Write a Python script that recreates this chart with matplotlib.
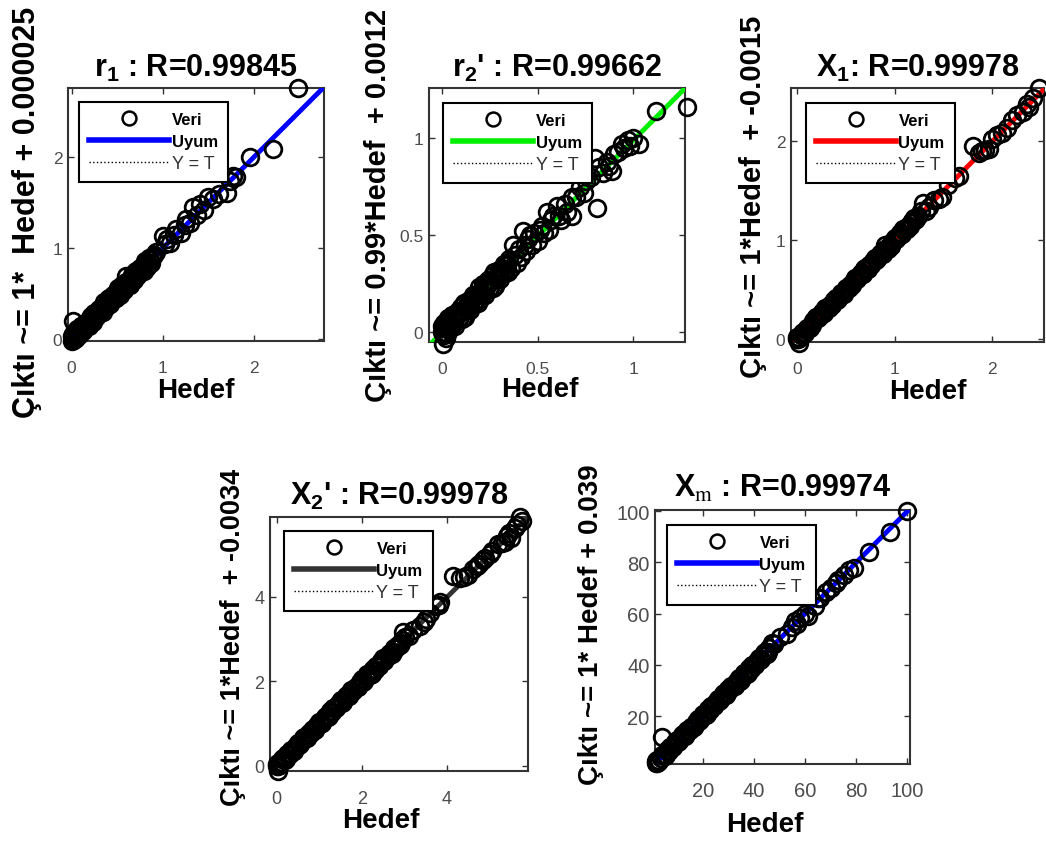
import matplotlib
matplotlib.use('Agg')
import matplotlib.pyplot as plt

plt.rcParams['font.family'] = ['Liberation Sans', 'DejaVu Sans']
plt.rcParams['mathtext.fontset'] = 'stix'
plt.rcParams['mathtext.default'] = 'regular'

# ---- data ----
# r1 : Hedef (target) vs Cikti (output)
r1_target = [0.00, 0.01, 0.03, 0.04, 0.06, 0.07, 0.09, 0.10, 0.12, 0.13, 0.15, 0.16, 0.18, 0.19,
             0.21, 0.22, 0.24, 0.25, 0.27, 0.28, 0.30, 0.31, 0.33, 0.34, 0.36, 0.37, 0.39, 0.40,
             0.42, 0.43, 0.45, 0.46, 0.48, 0.49, 0.51, 0.52, 0.54, 0.55, 0.57, 0.58, 0.60, 0.61,
             0.63, 0.64, 0.66, 0.67, 0.69, 0.70, 0.72, 0.73, 0.75, 0.76, 0.78, 0.79, 0.81, 0.82,
             0.84, 0.85, 0.87, 0.88, 0.90,
             0.02, 0.05, 0.08, 0.11, 0.14, 0.17, 0.20, 0.23, 0.26, 0.29, 0.32, 0.35, 0.38, 0.41,
             0.44, 0.47, 0.50, 0.53, 0.56, 0.59, 0.62, 0.65, 0.68, 0.71, 0.74, 0.77, 0.80, 0.83,
             0.86, 0.89,
             0.02, 0.00, 0.02, 0.05, 0.60,
             0.93, 1.00, 1.02, 1.05, 1.08, 1.12, 1.15, 1.20, 1.24, 1.26, 1.30, 1.33, 1.38, 1.41,
             1.45, 1.50, 1.55, 1.62, 1.70, 1.74, 1.77, 1.80, 1.96, 2.21, 2.48]
r1_output = [0.03, -0.01, 0.04, 0.00, 0.11, 0.07, 0.08, 0.14, 0.09, 0.15, 0.18, 0.14, 0.19, 0.15,
             0.26, 0.22, 0.23, 0.29, 0.24, 0.30, 0.33, 0.29, 0.34, 0.30, 0.41, 0.37, 0.38, 0.44,
             0.39, 0.45, 0.48, 0.44, 0.49, 0.45, 0.56, 0.52, 0.53, 0.59, 0.54, 0.60, 0.63, 0.59,
             0.64, 0.60, 0.71, 0.67, 0.68, 0.74, 0.69, 0.75, 0.78, 0.74, 0.79, 0.75, 0.86, 0.82,
             0.83, 0.89, 0.84, 0.90, 0.93,
             0.01, 0.07, 0.05, 0.15, 0.14, 0.15, 0.23, 0.19, 0.27, 0.31, 0.31, 0.37, 0.35, 0.45,
             0.44, 0.45, 0.53, 0.49, 0.57, 0.61, 0.61, 0.67, 0.65, 0.75, 0.74, 0.75, 0.83, 0.79,
             0.87, 0.91,
             0.20, -0.02, 0.06, 0.01, 0.69,
             0.96, 1.13, 1.05, 1.10, 1.06, 1.15, 1.21, 1.17, 1.25, 1.32, 1.28, 1.45, 1.36, 1.48,
             1.42, 1.56, 1.54, 1.60, 1.61, 1.74, 1.79, 1.78, 2.00, 2.09, 2.76]

# r2'
r2_target = [0.000, 0.008, 0.016, 0.024, 0.032, 0.040, 0.048, 0.056, 0.064, 0.072, 0.080, 0.088,
             0.096, 0.104, 0.112, 0.120, 0.128, 0.136, 0.144, 0.152, 0.160, 0.168, 0.176, 0.184,
             0.192, 0.200, 0.208, 0.216, 0.224, 0.232, 0.240, 0.248, 0.256, 0.264, 0.272, 0.280,
             0.288, 0.296, 0.304, 0.312, 0.320, 0.328, 0.336, 0.344,
             0.004, 0.020, 0.036, 0.052, 0.068, 0.084, 0.100, 0.116, 0.132, 0.148, 0.164, 0.180,
             0.196, 0.212, 0.228, 0.244, 0.260, 0.276, 0.292, 0.308, 0.324, 0.340,
             0.005, 0.000, 0.010, 0.020,
             0.35, 0.36, 0.37, 0.38, 0.39, 0.40, 0.41, 0.42, 0.43, 0.44, 0.45, 0.46, 0.47, 0.48,
             0.50, 0.51, 0.52, 0.53, 0.55, 0.56, 0.57, 0.58, 0.60, 0.61, 0.62, 0.64, 0.65, 0.68,
             0.68, 0.70, 0.72, 0.74, 0.75, 0.78, 0.80, 0.81, 0.82, 0.84, 0.86, 0.87, 0.89, 0.90,
             0.92, 0.94, 0.95, 0.97, 0.98, 1.00, 1.03, 1.12, 1.28]
r2_output = [0.030, -0.012, 0.026, -0.011, 0.072, 0.040, 0.033, 0.081, 0.034, 0.092, 0.110, 0.068,
             0.106, 0.069, 0.152, 0.120, 0.113, 0.161, 0.114, 0.172, 0.190, 0.148, 0.186, 0.149,
             0.232, 0.200, 0.193, 0.241, 0.194, 0.252, 0.270, 0.228, 0.266, 0.229, 0.312, 0.280,
             0.273, 0.321, 0.274, 0.332, 0.350, 0.308, 0.346, 0.309,
             -0.006, 0.040, 0.011, 0.087, 0.068, 0.064, 0.130, 0.081, 0.142, 0.163, 0.154, 0.200,
             0.171, 0.247, 0.228, 0.224, 0.290, 0.241, 0.302, 0.323, 0.314, 0.360,
             -0.060, 0.000, 0.050, -0.030,
             0.38, 0.33, 0.45, 0.40, 0.36, 0.43, 0.39, 0.52, 0.45, 0.42, 0.48, 0.50, 0.45, 0.51,
             0.47, 0.53, 0.55, 0.51, 0.62, 0.53, 0.58, 0.60, 0.65, 0.60, 0.58, 0.66, 0.62, 0.60,
             0.70, 0.70, 0.75, 0.72, 0.78, 0.80, 0.90, 0.64, 0.85, 0.82, 0.88, 0.86, 0.83, 0.92,
             0.93, 0.97, 0.95, 0.99, 0.96, 1.00, 0.97, 1.14, 1.16]

# X1
x1_target = [0.00, 0.02, 0.04, 0.06, 0.08, 0.10, 0.12, 0.14, 0.16, 0.18, 0.20, 0.22, 0.24, 0.26,
             0.28, 0.30, 0.32, 0.34, 0.36, 0.38, 0.40, 0.42, 0.44, 0.46, 0.48, 0.50, 0.52, 0.54,
             0.56, 0.58, 0.60, 0.62, 0.64, 0.66, 0.68, 0.70, 0.72, 0.74, 0.76, 0.78, 0.80, 0.82,
             0.84, 0.86, 0.88, 0.90, 0.92, 0.94, 0.96, 0.98, 1.00, 1.02, 1.04, 1.06, 1.08, 1.10,
             1.12, 1.14, 1.16, 1.18, 1.20, 1.22, 1.24,
             0.01, 0.05, 0.09, 0.13, 0.17, 0.21, 0.25, 0.29, 0.33, 0.37, 0.41, 0.45, 0.49, 0.53,
             0.57, 0.61, 0.65, 0.69, 0.73, 0.77, 0.81, 0.85, 0.89, 0.93, 0.97, 1.01, 1.05, 1.09,
             1.13, 1.17, 1.21,
             0.02, 0.00, 0.90,
             1.27, 1.29, 1.32, 1.35, 1.40, 1.45, 1.49, 1.55, 1.62, 1.66, 1.80, 1.86, 1.90, 1.93,
             1.97, 2.00, 2.05, 2.10, 2.15, 2.20, 2.25, 2.32, 2.36, 2.38, 2.42, 2.48]
x1_output = [0.02, 0.01, 0.04, 0.07, 0.06, 0.115, 0.115, 0.145, 0.145, 0.19, 0.22, 0.21, 0.24,
             0.27, 0.26, 0.315, 0.315, 0.345, 0.345, 0.39, 0.42, 0.41, 0.44, 0.47, 0.46, 0.515,
             0.515, 0.545, 0.545, 0.59, 0.62, 0.61, 0.64, 0.67, 0.66, 0.715, 0.715, 0.745, 0.745,
             0.79, 0.82, 0.81, 0.84, 0.87, 0.86, 0.915, 0.915, 0.945, 0.945, 0.99, 1.02, 1.01,
             1.04, 1.07, 1.06, 1.115, 1.115, 1.145, 1.145, 1.19, 1.22, 1.21, 1.24,
             0.00, 0.065, 0.09, 0.115, 0.18, 0.215, 0.245, 0.31, 0.31, 0.37, 0.40, 0.465, 0.49,
             0.515, 0.58, 0.615, 0.645, 0.71, 0.71, 0.77, 0.80, 0.865, 0.89, 0.915, 0.98, 1.015,
             1.045, 1.11, 1.11, 1.17, 1.20,
             -0.04, 0.00, 0.95,
             1.30, 1.38, 1.30, 1.34, 1.41, 1.42, 1.44, 1.56, 1.63, 1.65, 1.95, 1.88, 1.90, 1.91,
             1.92, 2.02, 2.06, 2.08, 2.14, 2.22, 2.27, 2.30, 2.38, 2.35, 2.44, 2.54]

# X2'
x2_target = [0.00, 0.05, 0.10, 0.15, 0.20, 0.25, 0.30, 0.35, 0.40, 0.45, 0.50, 0.55, 0.60, 0.65,
             0.70, 0.75, 0.80, 0.85, 0.90, 0.95, 1.00, 1.05, 1.10, 1.15, 1.20, 1.25, 1.30, 1.35,
             1.40, 1.45, 1.50, 1.55, 1.60, 1.65, 1.70, 1.75, 1.80, 1.85, 1.90, 1.95, 2.00, 2.05,
             2.10, 2.15, 2.20, 2.25, 2.30, 2.35, 2.40, 2.45, 2.50, 2.55, 2.60, 2.65, 2.70, 2.75,
             2.80, 2.85, 2.90, 2.95, 3.00,
             0.025, 0.125, 0.225, 0.325, 0.425, 0.525, 0.625, 0.725, 0.825, 0.925, 1.025, 1.125,
             1.225, 1.325, 1.425, 1.525, 1.625, 1.725, 1.825, 1.925, 2.025, 2.125, 2.225, 2.325,
             2.425, 2.525, 2.625, 2.725, 2.825, 2.925,
             0.02, 0.00, 0.03,
             2.96, 3.10, 3.20, 3.36, 3.45, 3.50, 3.60, 3.75, 3.80, 3.84, 4.14, 4.30, 4.40, 4.50,
             4.60, 4.70, 4.75, 4.85, 4.90, 5.00, 5.05, 5.20, 5.30, 5.35, 5.40, 5.45, 5.50, 5.60,
             5.65, 5.72, 5.75]
x2_output = [0.05, 0.02, 0.10, 0.18, 0.15, 0.29, 0.28, 0.37, 0.36, 0.48, 0.55, 0.52, 0.60, 0.68,
             0.65, 0.79, 0.78, 0.87, 0.86, 0.98, 1.05, 1.02, 1.10, 1.18, 1.15, 1.29, 1.28, 1.37,
             1.36, 1.48, 1.55, 1.52, 1.60, 1.68, 1.65, 1.79, 1.78, 1.87, 1.86, 1.98, 2.05, 2.02,
             2.10, 2.18, 2.15, 2.29, 2.28, 2.37, 2.36, 2.48, 2.55, 2.52, 2.60, 2.68, 2.65, 2.79,
             2.78, 2.87, 2.86, 2.98, 3.05,
             -0.005, 0.165, 0.175, 0.375, 0.425, 0.485, 0.655, 0.705, 0.845, 0.915, 0.995, 1.165,
             1.175, 1.375, 1.425, 1.485, 1.655, 1.705, 1.845, 1.915, 1.995, 2.165, 2.175, 2.375,
             2.425, 2.485, 2.655, 2.705, 2.845, 2.915,
             -0.12, 0.00, 0.08,
             3.17, 3.08, 3.22, 3.31, 3.40, 3.48, 3.62, 3.78, 3.80, 3.88, 4.49, 4.45, 4.48, 4.52,
             4.65, 4.72, 4.78, 4.88, 4.92, 5.02, 5.08, 5.25, 5.28, 5.30, 5.45, 5.50, 5.40, 5.62,
             5.70, 5.89, 5.80]

# Xm
xm_target = [2.0, 2.8, 3.6, 4.4, 5.2, 6.0, 6.8, 7.6, 8.4, 9.2, 10.0, 10.8, 11.6, 12.4, 13.2, 14.0,
             14.8, 15.6, 16.4, 17.2, 18.0, 18.8, 19.6, 20.4, 21.2, 22.0, 22.8, 23.6, 24.4, 25.2,
             26.0, 26.8, 27.6, 28.4, 29.2, 30.0, 30.8, 31.6, 32.4, 33.2, 34.0, 34.8, 35.6, 36.4,
             37.2, 38.0, 38.8, 39.6, 40.4, 41.2, 42.0, 42.8, 43.6, 44.4, 45.2, 46.0,
             2.4, 4.0, 5.6, 7.2, 8.8, 10.4, 12.0, 13.6, 15.2, 16.8, 18.4, 20.0, 21.6, 23.2, 24.8,
             26.4, 28.0, 29.6, 31.2, 32.8, 34.4, 36.0, 37.6, 39.2, 40.8, 42.4, 44.0, 45.6,
             1.5, 2.0, 1.6, 4.0,
             47.0, 48.0, 50.0, 53.0, 55.0, 56.0, 57.0, 58.0, 60.0, 61.0, 64.0, 65.0, 66.0, 68.0,
             70.0, 72.0, 73.0, 75.0, 77.0, 79.0, 85.0, 93.0, 100.0]
xm_output = [2.8, 2.3, 3.6, 4.9, 4.4, 6.6, 6.5, 7.9, 7.8, 9.7, 10.8, 10.3, 11.6, 12.9, 12.4, 14.6,
             14.5, 15.9, 15.8, 17.7, 18.8, 18.3, 19.6, 20.9, 20.4, 22.6, 22.5, 23.9, 23.8, 25.7,
             26.8, 26.3, 27.6, 28.9, 28.4, 30.6, 30.5, 31.9, 31.8, 33.7, 34.8, 34.3, 35.6, 36.9,
             36.4, 38.6, 38.5, 39.9, 39.8, 41.7, 42.8, 42.3, 43.6, 44.9, 44.4, 46.6,
             1.9, 4.7, 4.8, 8.0, 8.8, 9.8, 12.5, 13.2, 15.6, 16.6, 17.9, 20.7, 20.8, 24.0, 24.8,
             25.8, 28.5, 29.2, 31.6, 32.6, 33.9, 36.7, 36.8, 40.0, 40.8, 41.8, 44.5, 45.2,
             1.5, 1.6, 2.4, 11.8,
             48.5, 48.0, 51.0, 52.0, 55.0, 57.0, 56.0, 58.5, 60.0, 59.0, 63.0, 66.0, 66.0, 68.5,
             70.0, 72.0, 73.0, 75.0, 77.0, 78.0, 84.0, 92.0, 100.0]

# fit: output ~= slope*target + intercept
fit_slope = [1.0, 0.99, 1.0, 1.0, 1.0]
fit_intercept = [0.000025, 0.0012, -0.0015, -0.0034, 0.039]
r_values = ['0.99845', '0.99662', '0.99978', '0.99978', '0.99974']
names = ['r$_1$ : ', "r$_2$' : ", 'X$_1$: ', "X$_2$' : ", r'X$_\mathrm{m}$ : ']
ylabels = ['Çıktı ~= 1*  Hedef + 0.000025',
           'Çıktı ~= 0.99*Hedef  + 0.0012',
           'Çıktı ~= 1*Hedef  + -0.0015',
           'Çıktı ~= 1*Hedef  + -0.0034',
           'Çıktı ~= 1* Hedef + 0.039']
fit_colors = ['#0000ff', '#00ee00', '#ff0000', '#333333', '#0000ff']
legend_labels = ['Veri', 'Uyum', 'Y = T']

W, H = 1046, 845
fig = plt.figure(figsize=(W / 100, H / 100), dpi=100)


def add_px_axes(l, t, r, b):
    return fig.add_axes([l / W, 1 - b / H, (r - l) / W, (b - t) / H])


def panel(ax, target, output, i, xlim, ylim, ticks, tick_fs, ylab_fs,
          ylab_pos, xlab_pos, leg_pos, title_pad, xpad):
    m, c = fit_slope[i], fit_intercept[i]
    ax.plot(xlim, xlim, ':', color='black', lw=1, zorder=2)
    ax.plot(xlim, [m * xlim[0] + c, m * xlim[1] + c], '-', color=fit_colors[i], lw=3.5, zorder=3)
    ax.plot(target, output, 'o', mfc='none', mec='black', ms=12, mew=2.0,
            zorder=4, clip_on=False)
    ax.set_xlim(xlim)
    ax.set_ylim(ylim)
    ax.set_xticks(ticks)
    ax.set_yticks(ticks)
    ax.set_xticklabels([f'{t:g}' for t in ticks])
    ax.set_yticklabels([f'{t:g}' for t in ticks])
    ax.tick_params(direction='in', length=4, width=1, color='#333333',
                   top=True, right=True, labelsize=tick_fs, labelcolor='#4d4d4d')
    ax.tick_params(axis='x', pad=xpad)
    ax.tick_params(axis='y', pad=4)
    for s in ax.spines.values():
        s.set_color('#333333')
        s.set_linewidth(1.5)

    ax.set_title(names[i] + 'R=' + r_values[i], fontsize=22, fontweight='bold', pad=title_pad)
    ax.set_xlabel('Hedef', fontsize=20, fontweight='bold')
    ax.xaxis.set_label_coords(*xlab_pos)
    ax.set_ylabel(ylabels[i], fontsize=ylab_fs, fontweight='bold')
    ax.yaxis.set_label_coords(*ylab_pos)

    h_data, = ax.plot([], [], 'o', mfc='none', mec='black', ms=10, mew=1.8)
    h_fit, = ax.plot([], [], '-', color=fit_colors[i], lw=4)
    h_yt, = ax.plot([], [], ':', color='black', lw=1)
    leg = ax.legend([h_data, h_fit, h_yt], legend_labels, loc='upper left',
                    bbox_to_anchor=leg_pos, borderaxespad=0, fontsize=12,
                    frameon=True, fancybox=False, framealpha=1, edgecolor='black',
                    borderpad=0.6, labelspacing=0.4, handlelength=4.8, handletextpad=0.15)
    leg.get_frame().set_linewidth(1.5)
    t = leg.get_texts()
    t[0].set_fontweight('bold')
    t[1].set_fontweight('bold')
    t[2].set_fontsize(13)
    t[2].set_color('#333333')
    leg.set_zorder(10)


ax1 = add_px_axes(68, 89, 324, 342)
panel(ax1, r1_target, r1_output, 0, (-0.04, 2.77), (-0.02, 2.76), [0, 1, 2], 12.5, 22,
      (-0.102, 0.514), (0.5, -0.142), (0.043, 0.945), 8.6, 14)

ax2 = add_px_axes(429, 89, 685, 343)
panel(ax2, r2_target, r2_output, 1, (-0.07, 1.27), (-0.05, 1.26), [0, 0.5, 1], 12.5, 21,
      (-0.145, 0.543), (0.434, -0.134), (0.055, 0.941), 8.6, 14)

ax3 = add_px_axes(791, 89, 1044, 343)
panel(ax3, x1_target, x1_output, 2, (-0.06, 2.53), (-0.03, 2.54), [0, 1, 2], 12.5, 21,
      (-0.095, 0.575), (0.54, -0.142), (0.059, 0.941), 8.6, 14)

ax4 = add_px_axes(270, 518, 528, 772)
panel(ax4, x2_target, x2_output, 3, (-0.16, 5.9), (-0.12, 5.89), [0, 2, 4], 13, 19.5,
      (-0.093, 0.531), (0.43, -0.142), (0.054, 0.945), 9.4, 14)

ax5 = add_px_axes(655, 511, 910, 765)
panel(ax5, xm_target, xm_output, 4, (1.3, 101), (1.3, 100.5), [20, 40, 60, 80, 100], 14.5, 20,
      (-0.2, 0.551), (0.43, -0.185), (0.047, 0.941), 10, 12)

fig.savefig('out.png', dpi=100)
